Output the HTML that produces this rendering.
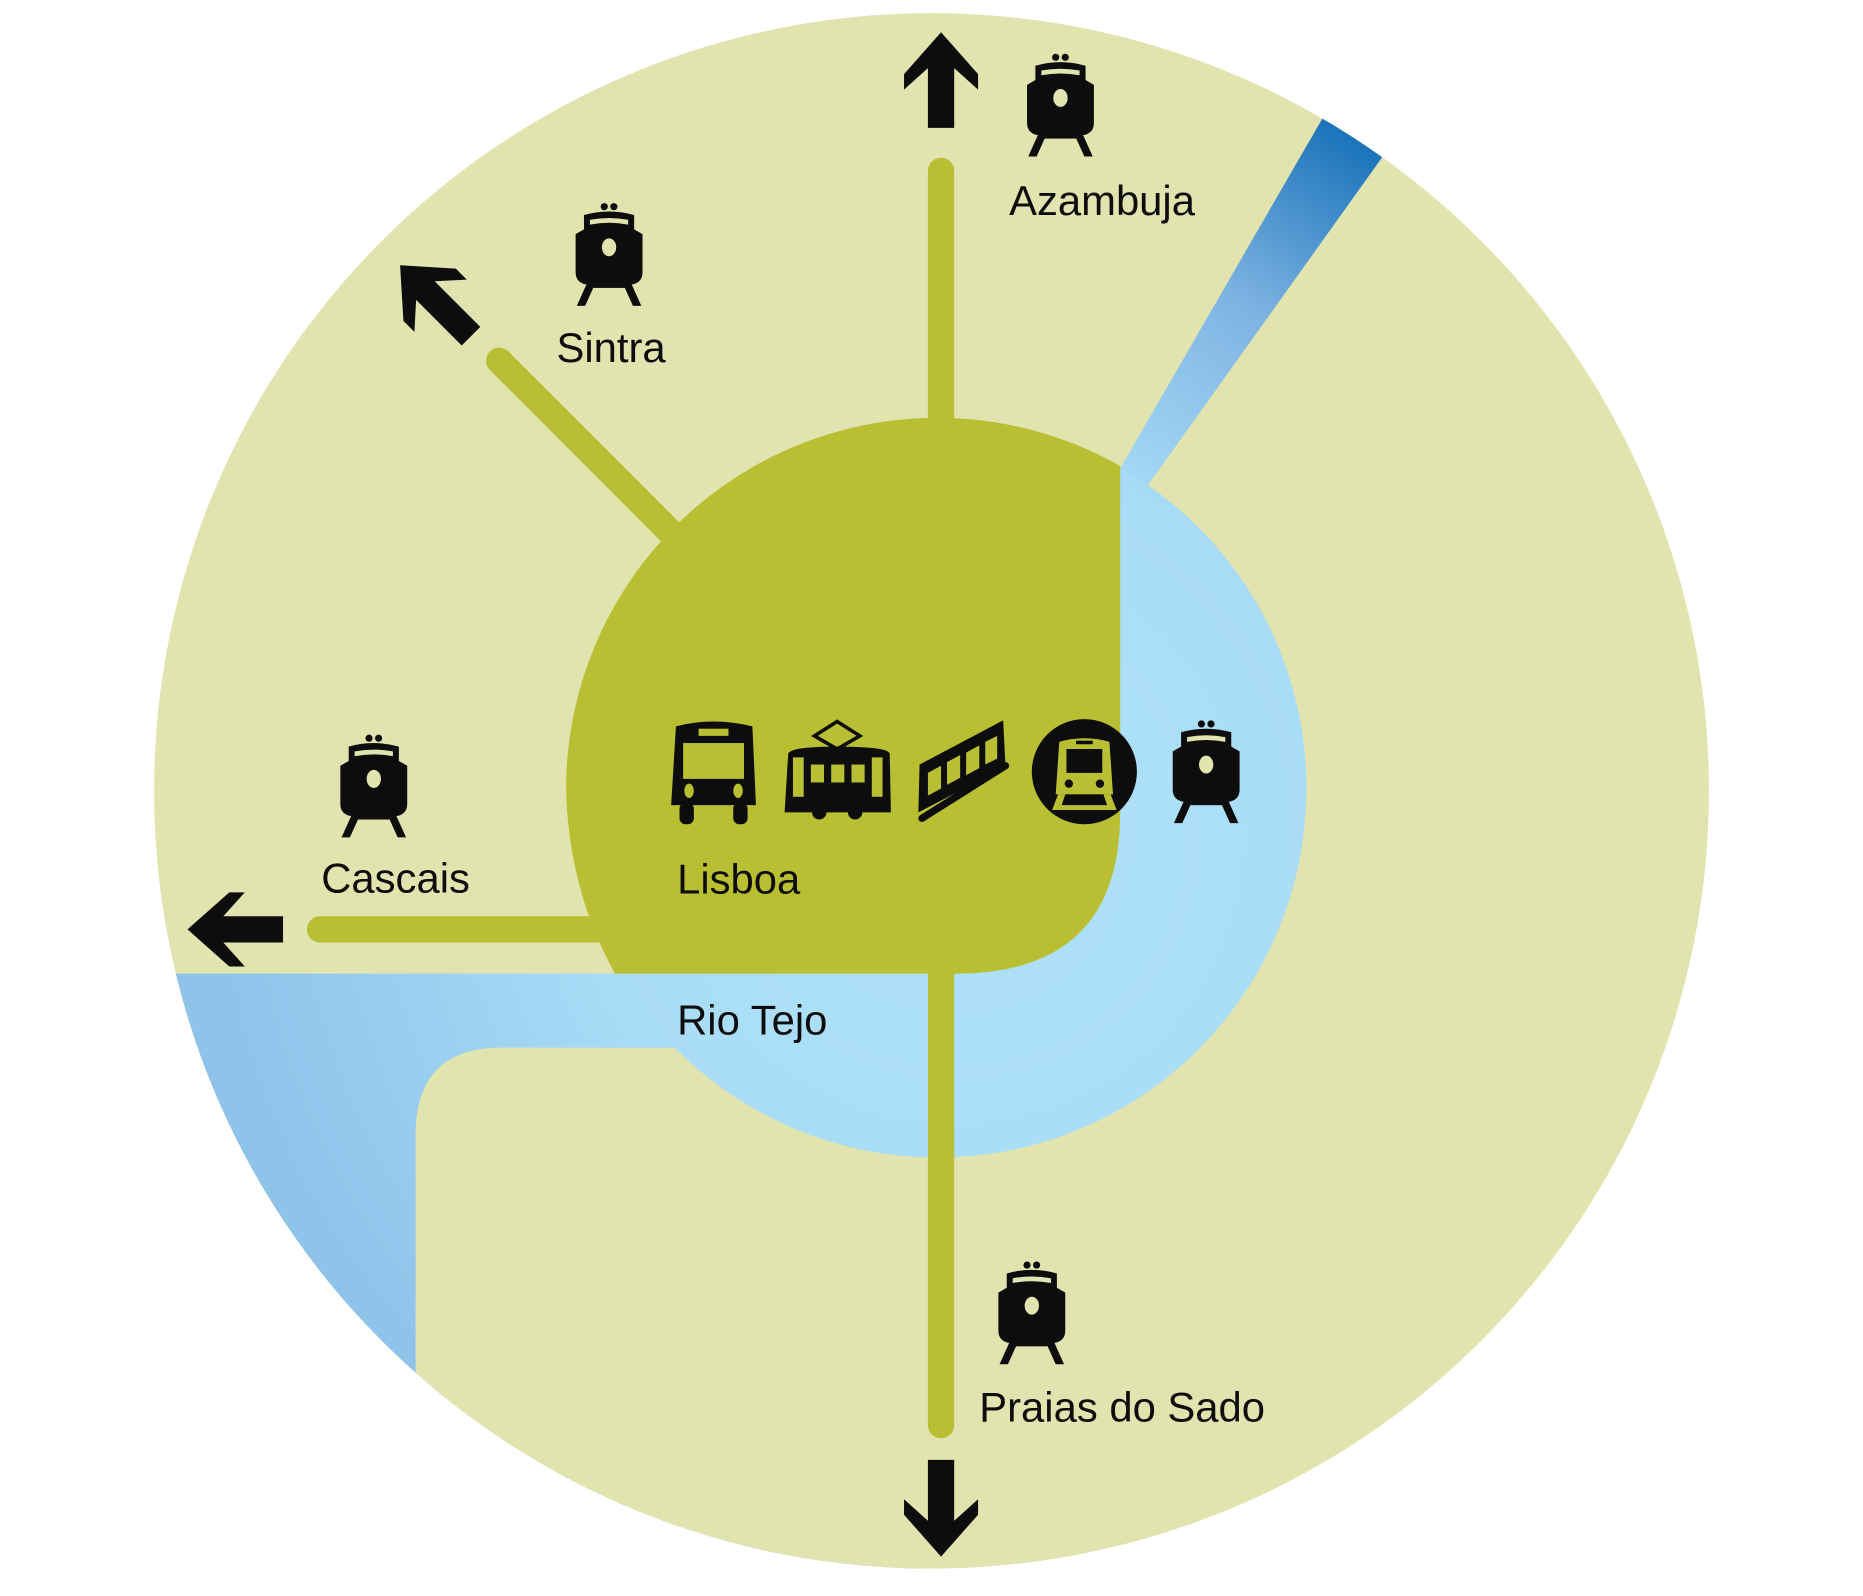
<!DOCTYPE html>
<html><head><meta charset="utf-8"><style>
html,body{margin:0;padding:0;background:#fff;overflow:hidden;width:1863px;height:1596px;}
svg{display:block;}
text{font-family:"Liberation Sans",sans-serif;font-size:35px;fill:#0d0d0d;}
</style></head><body>
<svg width="1863" height="1596" viewBox="0 0 1560 1336" preserveAspectRatio="none" xmlns="http://www.w3.org/2000/svg">
<defs>
<clipPath id="big"><circle cx="780" cy="662" r="651"/></clipPath>
<radialGradient id="bg1" cx="800" cy="700" r="620" gradientUnits="userSpaceOnUse">
<stop offset="0" stop-color="#b0e3fa"/><stop offset="0.5" stop-color="#a9dcf6"/><stop offset="1" stop-color="#8fc3ea"/></radialGradient>
<linearGradient id="strip" x1="1140" y1="110" x2="945" y2="400" gradientUnits="userSpaceOnUse">
<stop offset="0" stop-color="#1670b8"/><stop offset="0.5" stop-color="#7db3e2"/><stop offset="1" stop-color="#a5d8f5"/></linearGradient>
<g id="train">
<circle cx="26" cy="3" r="3"/><circle cx="34" cy="3" r="3"/>
<path d="M9 10 Q30 4 51 10 L51 22 L58 26 L58 58 Q58 66 50 68 L10 68 Q2 66 2 58 L2 26 L9 22 Z"/>
<path d="M14 14 Q30 11 46 14 L46 18 Q30 15 14 18 Z" fill="#e1e4ae"/>
<ellipse cx="30" cy="37" rx="6" ry="7.5" fill="#e1e4ae"/>
<path d="M12 66 L19 66 L10 86 L3 86 Z"/><path d="M48 66 L41 66 L50 86 L57 86 Z"/>
<rect x="14" y="66" width="32" height="5"/>
</g>
</defs>
<circle cx="780" cy="662" r="651" fill="#e1e4ae"/>
<g clip-path="url(#big)">
<rect x="0" y="815" width="790" height="600" fill="url(#bg1)"/>
<path d="M348 1400 L348 950 Q348 877 420 877 L790 877 L790 1400 Z" fill="#e1e4ae"/>
<polygon points="938,392 1108,98 1160,128 962,405 938,420" fill="url(#strip)"/>
</g>
<circle cx="785" cy="660" r="309" fill="url(#bg1)"/>
<path d="M938 390 L938 680 Q938 815 800 815 L515 815 Q476 745 474 660 A311 311 0 0 1 938 390 Z" fill="#b8bf33"/>
<g stroke="#b8bf33" stroke-width="22" stroke-linecap="round" fill="none">
<line x1="788" y1="143" x2="788" y2="355"/>
<line x1="788" y1="812" x2="788" y2="1193"/>
<line x1="418" y1="302" x2="562" y2="446"/>
<line x1="268" y1="778" x2="500" y2="778"/>
</g>
<g fill="#0d0d0d">
<polygon points="788,27 819,62 819,75 799,57 799,107 777,107 777,57 757,75 757,62"/>
<polygon points="788,1303 819,1268 819,1255 799,1273 799,1222 777,1222 777,1273 757,1255 757,1268"/>
<polygon points="157,778 192,747 205,747 187,767 237,767 237,789 187,789 205,809 192,809"/>
<g transform="translate(335,222) rotate(45)"><polygon points="0,0 35,-31 48,-31 30,-11 84,-11 84,11 30,11 48,31 35,31"/></g>
<use href="#train" x="858" y="45"/>
<use href="#train" x="480" y="170"/>
<use href="#train" x="283" y="615"/>
<use href="#train" x="980" y="603"/>
<use href="#train" x="834" y="1056"/>
<path d="M566 608 Q597 600 630 608 L633 674 L615 674 L615 685 Q620 690 625 685 L625 674 L570 674 L570 685 Q575 690 580 685 L580 674 L562 674 Z"/>
<rect x="569" y="672" width="12" height="18" rx="5"/><rect x="614" y="672" width="12" height="18" rx="5"/>
<rect x="572" y="622" width="51" height="30" fill="#b8bf33"/>
<rect x="585" y="610" width="25" height="6" fill="#b8bf33"/>
<ellipse cx="577" cy="662" rx="4" ry="6" fill="#b8bf33"/><ellipse cx="618" cy="662" rx="4" ry="6" fill="#b8bf33"/>
<polygon points="701,604 720,616 701,627 682,616" fill="none" stroke="#0d0d0d" stroke-width="3"/>
<path d="M660 631 Q662 625 700 625 Q744 625 745 631 L746 680 L657 680 Z"/>
<circle cx="686" cy="680" r="6"/><circle cx="716" cy="680" r="6"/>
<rect x="664" y="634" width="9" height="33" fill="#b8bf33"/><rect x="730" y="634" width="9" height="33" fill="#b8bf33"/>
<rect x="679" y="640" width="11" height="15" fill="#b8bf33"/><rect x="696" y="640" width="11" height="15" fill="#b8bf33"/><rect x="713" y="640" width="11" height="15" fill="#b8bf33"/>
<polygon points="770,640 840,603 842,642 769,680"/>
<line x1="772" y1="685" x2="842" y2="641" stroke="#0d0d0d" stroke-width="6" stroke-linecap="round"/>
<polygon points="777,647 788,641 788,660 777,666" fill="#b8bf33"/><polygon points="793,638 804,632 804,651 793,657" fill="#b8bf33"/>
<polygon points="809,630 820,624 820,643 809,649" fill="#b8bf33"/><polygon points="825,621 835,616 835,635 825,640" fill="#b8bf33"/>
<circle cx="908" cy="646" r="44"/>
<path d="M887 621 Q908 615 929 621 L932 665 L884 665 Z" fill="#b8bf33"/>
<rect x="893" y="627" width="30" height="20"/><rect x="901" y="620" width="14" height="3"/>
<circle cx="895" cy="656" r="3.5"/><circle cx="921" cy="656" r="3.5"/>
<polygon points="886,665 930,665 935,678 881,678" fill="#b8bf33"/>
<polygon points="892,665 924,665 927,674 889,674"/>
</g>
<text x="845" y="180">Azambuja</text>
<text x="466" y="303">Sintra</text>
<text x="269" y="747">Cascais</text>
<text x="567" y="748">Lisboa</text>
<text x="567" y="866">Rio Tejo</text>
<text x="820" y="1190">Praias do Sado</text>
</svg>
</body></html>
